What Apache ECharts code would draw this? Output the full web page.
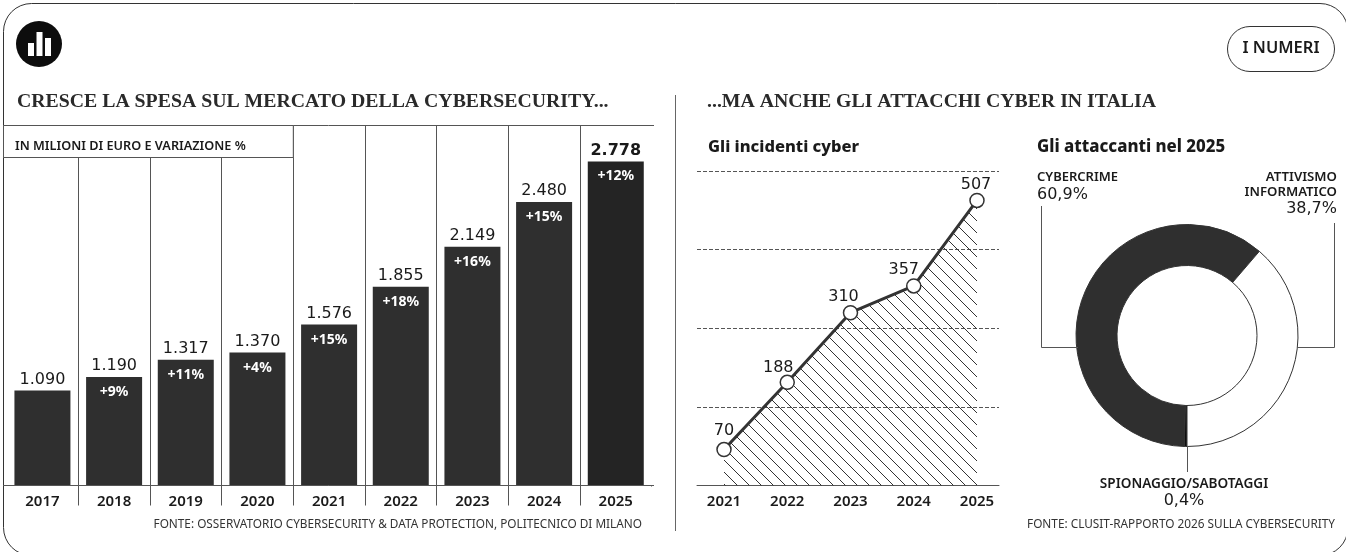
<!DOCTYPE html>
<html><head><meta charset="utf-8">
<style>html,body{margin:0;padding:0;background:#fff}#c{width:1346px;height:552px}</style>
<script src="https://cdn.jsdelivr.net/npm/echarts@6/dist/echarts.min.js"></script>
</head><body><div id="c"></div>
<script>
const spendYears = ['2017','2018','2019','2020','2021','2022','2023','2024','2025'];
const spending = [1090,1190,1317,1370,1576,1855,2149,2480,2778];
const variation = ['', '+9%','+11%','+4%','+15%','+18%','+16%','+15%','+12%'];
const incidentYears = [2021,2022,2023,2024,2025];
const incidents = [70,188,310,357,507];
const incidentLabelShift = [[0,-3],[-9,1],[-7,0],[-10,0],[-1,0]];
const attackers = ['Spionaggio/sabotaggi','Cybercrime','Attivismo informatico'];
const attackerShares = [0.4,60.9,38.7];
const attackerColors = ['#0d0d0d','#2f2f2f','#ffffff'];

const INK='#1a1a1a', RULE='#555555', SANS='"Noto Sans", sans-serif', WIDE='"DejaVu Sans", sans-serif', SERIF='"Liberation Serif", serif';
const fmt = v => String(v).replace(/(\d)(\d{3})$/,'$1.$2');

const tile=document.createElement('canvas'); tile.width=tile.height=12;
(function(){const g=tile.getContext('2d');g.strokeStyle='#333';g.lineWidth=1;
 g.beginPath();g.moveTo(-2,-2);g.lineTo(14,14);g.moveTo(10,-2);g.lineTo(14,2);g.moveTo(-2,10);g.lineTo(2,14);g.stroke();})();

const ln=(x1,y1,x2,y2,c=RULE,w=1)=>({type:'line',silent:true,z:10,shape:{x1,y1,x2,y2},style:{stroke:c,lineWidth:w}});
const tx=(text,x,y,size,weight,align='left',font=SANS,fill=INK)=>({type:'text',silent:true,z:12,x,y:y+1,style:{text,x:0,y:0,fill,align,verticalAlign:'middle',font:`${weight} ${size}px ${font}`}});
const mask=(x,y,width,height)=>({type:'rect',silent:true,z:9,shape:{x,y,width,height},style:{fill:'#fff'}});

const graphic=[
 {type:'rect',silent:true,z:10,shape:{x:3.5,y:3.5,width:1344.5,height:552,r:28},style:{fill:'none',stroke:'#333',lineWidth:1}},
 {type:'circle',silent:true,z:10,shape:{cx:39,cy:44,r:23},style:{fill:'#0d0d0d'}},
 {type:'rect',silent:true,z:11,shape:{x:28,y:43,width:6,height:13},style:{fill:'#fff'}},
 {type:'rect',silent:true,z:11,shape:{x:36.5,y:32,width:6,height:24},style:{fill:'#fff'}},
 {type:'rect',silent:true,z:11,shape:{x:45,y:38,width:6,height:18},style:{fill:'#fff'}},
 {type:'rect',silent:true,z:10,shape:{x:1227.5,y:26.5,width:107,height:45,r:22.5},style:{fill:'none',stroke:'#333',lineWidth:1}},
 tx('I NUMERI',1281,47,16.5,600,'center'),
 tx('CRESCE LA SPESA SUL MERCATO DELLA CYBERSECURITY...',17,100.5,19.8,700,'left',SERIF,'#2a2a2a'),
 tx('...MA ANCHE GLI ATTACCHI CYBER IN ITALIA',707,100.5,19.8,700,'left',SERIF,'#2a2a2a'),
 mask(4,486.5,6,20),
 mask(649,486.5,6,20),
 ln(3,125.5,654,125.5),
 ln(3,485.5,654,485.5),
 {type:'rect',silent:true,z:10,shape:{x:3.5,y:125.5,width:289.8,height:32},style:{fill:'#fff',stroke:RULE,lineWidth:1}},
 tx('IN MILIONI DI EURO E VARIAZIONE %',15,145.5,12.7,600),
 tx('FONTE: OSSERVATORIO CYBERSECURITY & DATA PROTECTION, POLITECNICO DI MILANO',642,523.5,11.8,400,'right',SANS,'#333'),
 ln(675.5,95,675.5,531,'#666',1),
 tx('Gli incidenti cyber',708,146.5,16.5,800),
 tx('Gli attaccanti nel 2025',1037,146.5,16.8,800),
 tx('CYBERCRIME',1037,176.5,13,600),
 tx('60,9%',1037,193.5,16,400,'left',WIDE),
 tx('ATTIVISMO',1337,176.5,13.2,600,'right'),
 tx('INFORMATICO',1337,191.5,13.2,600,'right'),
 tx('38,7%',1337,207.5,16,400,'right',WIDE),
 tx('SPIONAGGIO/SABOTAGGI',1184,483.5,13.6,600,'center'),
 tx('0,4%',1184,499.5,16,400,'center',WIDE),
 tx('FONTE: CLUSIT-RAPPORTO 2026 SULLA CYBERSECURITY',1335,523.5,11.8,400,'right',SANS,'#333'),
 {type:'polyline',silent:true,z:10,shape:{points:[[1041.5,206],[1041.5,347.5],[1078,347.5]]},style:{fill:'none',stroke:RULE,lineWidth:1}},
 {type:'polyline',silent:true,z:10,shape:{points:[[1334.5,223],[1334.5,347.5],[1297,347.5]]},style:{fill:'none',stroke:RULE,lineWidth:1}},
 ln(1187.5,446,1187.5,472)
];

const valueLabel=(i)=>i===spending.length-1?{fontWeight:700}:{};
const chart=echarts.init(document.getElementById('c'),null,{renderer:'canvas'});
chart.setOption({
 animation:false,backgroundColor:'#fff',
 graphic,
 grid:[
  {left:6.6,top:125.5,width:645,height:360},
  {left:697,top:171,width:302,height:314.5}
 ],
 xAxis:[
  {type:'category',gridIndex:0,data:spendYears,
   axisLine:{show:false},
   axisTick:{show:true,length:20,lineStyle:{color:RULE,width:1},interval:(i)=>i>0},
   splitLine:{show:true,showMinLine:false,showMaxLine:false,interval:0,lineStyle:{color:RULE,width:1}},
   axisLabel:{color:INK,fontFamily:SANS,fontSize:15,fontWeight:600,margin:9}},
  {type:'value',gridIndex:1,min:2020.573,max:2025.348,
   splitLine:{show:false},
   axisLine:{show:true,onZero:false,lineStyle:{color:RULE,width:1}},axisTick:{show:false},
   axisLabel:{customValues:incidentYears,formatter:v=>String(v),color:INK,fontFamily:SANS,fontSize:15,fontWeight:600,margin:9}}
 ],
 yAxis:[
  {type:'value',gridIndex:0,min:390,max:3043,show:false,splitLine:{show:false}},
  {type:'value',gridIndex:1,min:7,max:558.6,show:false,splitLine:{show:false}},
  {type:'value',gridIndex:1,min:0,max:4,interval:1,
   axisLine:{show:false},axisTick:{show:false},axisLabel:{show:false},
   splitLine:{show:true,showMinLine:false,lineStyle:{color:RULE,width:1,type:[4,2]}}}
 ],
 series:[
  {type:'bar',xAxisIndex:0,yAxisIndex:0,barWidth:56,barGap:'-100%',silent:true,
   data:spending.map((v,i)=>({value:v,label:valueLabel(i)})),
   itemStyle:{color:p=>p.dataIndex===8?'#242424':'#2f2f2f'},
   label:{show:true,position:'top',distance:3,formatter:p=>fmt(p.value),fontFamily:WIDE,fontSize:16,color:INK,fontWeight:400}},
  {type:'bar',xAxisIndex:0,yAxisIndex:0,data:spending,barWidth:56,barGap:'-100%',silent:true,
   itemStyle:{color:'transparent'},
   label:{show:true,position:'insideTop',distance:8,formatter:p=>variation[p.dataIndex],fontFamily:SANS,fontSize:14,fontWeight:700,color:'#fff'}},
  {type:'line',xAxisIndex:1,yAxisIndex:1,silent:true,clip:false,
   data:incidentYears.map((y,i)=>({value:[y,incidents[i]],label:{offset:incidentLabelShift[i]}})),
   symbol:'circle',symbolSize:14,showAllSymbol:true,
   lineStyle:{color:'#333',width:3},
   itemStyle:{color:'#fff',borderColor:'#333',borderWidth:1.5},
   areaStyle:{origin:'start',color:{image:tile,repeat:'repeat'},opacity:1},
   label:{show:true,position:'top',distance:0,formatter:p=>String(p.value[1]),fontFamily:WIDE,fontSize:16,color:INK}},
  {type:'pie',silent:true,center:[1187,335.5],radius:[70,111],startAngle:270,clockwise:true,
   label:{show:false},labelLine:{show:false},
   data:attackers.map((n,i)=>({name:n,value:attackerShares[i],itemStyle:{color:attackerColors[i]}})),
   itemStyle:{borderColor:'#333',borderWidth:1}}
 ]
});
</script></body></html>
